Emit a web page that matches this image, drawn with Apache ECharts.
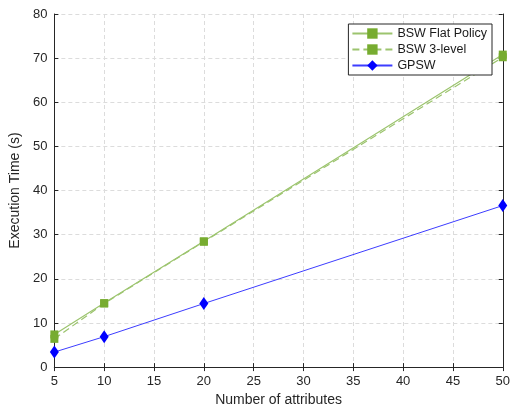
<!DOCTYPE html>
<html>
<head>
    <meta charset="utf-8">
    <title>Execution time</title>
    <script type="text/javascript" src="https://cdn.jsdelivr.net/npm/echarts@6/dist/echarts.min.js"></script>
</head>
<body style="margin:0;">
    <div id="chart" style="width: 513px;height:412px;"></div>
</body>
<script type="text/javascript">
    // 数据
    var attrs = [5, 10, 20, 50];
    var bswFlat = [7.4, 14.5, 28.5, 70.8];
    var bsw3Level = [6.4, 14.4, 28.4, 70.2];
    var gpsw = [3.4, 6.9, 14.4, 36.6];

    function pairs(ys) {
        return attrs.map(function (x, i) { return [x, ys[i]]; });
    }

    var font = 'Liberation Sans, Arial, sans-serif';
    var axisColor = '#262626';
    var gridLine = { show: true, lineStyle: { color: '#dcdcdc', type: [4, 3], width: 1 } };

    var chart = echarts.init(document.getElementById("chart"));
    chart.setOption({
        animation: false,
        backgroundColor: '#fff',
        textStyle: { fontFamily: font },
        grid: { left: 52, right: 10, top: 14, bottom: 43 },
        legend: {
            right: 21,
            top: 24,
            orient: 'vertical',
            padding: [3, 5, 3, 3],
            itemGap: 3,
            itemWidth: 40,
            itemHeight: 13,
            borderColor: '#262626',
            borderWidth: 1,
            backgroundColor: '#fff',
            textStyle: { fontSize: 12.5, color: '#1a1a1a', fontFamily: font },
            data: ['BSW Flat Policy', 'BSW 3-level', 'GPSW']
        },
        xAxis: [
            {
                type: 'value',
                min: 5, max: 50, interval: 5,
                name: 'Number of attributes',
                nameLocation: 'middle',
                nameGap: 23,
                nameTextStyle: { fontSize: 14, color: axisColor },
                axisLine: { lineStyle: { color: axisColor } },
                axisTick: { inside: true, length: 4, lineStyle: { color: axisColor } },
                axisLabel: { fontSize: 13, color: axisColor, margin: 8 },
                splitLine: gridLine
            },
            {
                type: 'value', position: 'top',
                min: 5, max: 50, interval: 5,
                axisLine: { lineStyle: { color: axisColor } },
                axisTick: { inside: true, length: 4, lineStyle: { color: axisColor } },
                axisLabel: { show: false },
                splitLine: { show: false }
            }
        ],
        yAxis: [
            {
                type: 'value',
                min: 0, max: 80, interval: 10,
                name: 'Execution Time (s)',
                nameLocation: 'middle',
                nameGap: 24,
                nameTextStyle: { fontSize: 14, color: axisColor },
                axisLine: { show: true, lineStyle: { color: axisColor } },
                axisTick: { show: true, inside: true, length: 4, lineStyle: { color: axisColor } },
                axisLabel: { fontSize: 13, color: axisColor, margin: 7 },
                splitLine: gridLine
            },
            {
                type: 'value', position: 'right',
                min: 0, max: 80, interval: 10,
                axisLine: { show: true, lineStyle: { color: axisColor } },
                axisTick: { show: true, inside: true, length: 4, lineStyle: { color: axisColor } },
                axisLabel: { show: false },
                splitLine: { show: false }
            }
        ],
        series: [
            {
                name: 'BSW Flat Policy',
                type: 'line',
                data: pairs(bswFlat),
                symbol: 'rect',
                symbolSize: 8,
                lineStyle: { color: '#9cc46e', width: 1.2 },
                itemStyle: { color: '#77ac30', borderWidth: 0 }
            },
            {
                name: 'BSW 3-level',
                type: 'line',
                data: pairs(bsw3Level),
                symbol: 'rect',
                symbolSize: 8,
                lineStyle: { color: '#9cc46e', width: 1.2, type: [7, 4] },
                itemStyle: { color: '#77ac30', borderWidth: 0 }
            },
            {
                name: 'GPSW',
                type: 'line',
                data: pairs(gpsw),
                symbol: 'diamond',
                symbolSize: [9, 13],
                lineStyle: { color: '#3d3dff', width: 1 },
                itemStyle: { color: '#0000ff', borderWidth: 0 }
            }
        ]
    });
</script>
</html>
